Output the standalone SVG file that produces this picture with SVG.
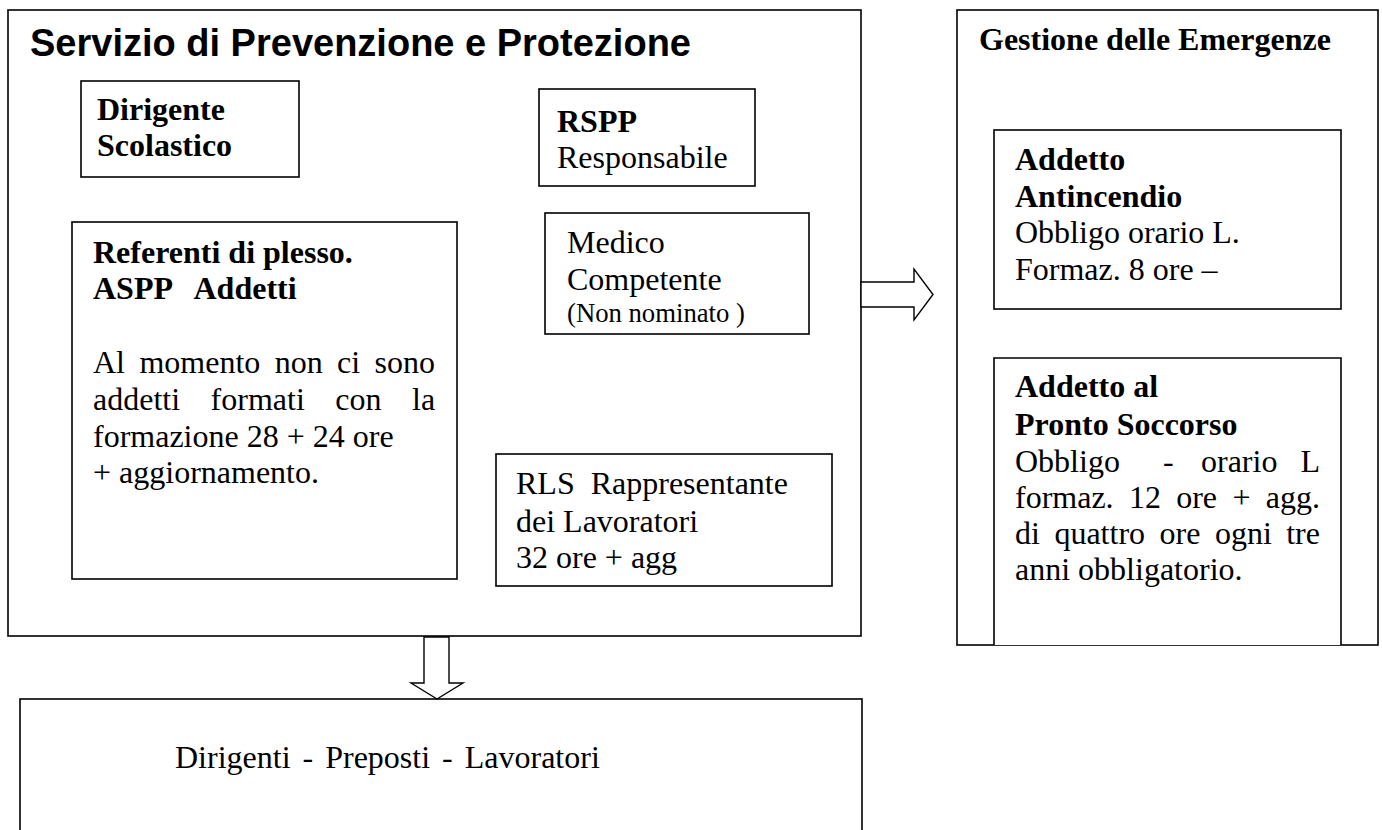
<svg xmlns="http://www.w3.org/2000/svg" width="1382" height="830" viewBox="0 0 1382 830">
<style>
  .box { fill: #ffffff; stroke: #000000; stroke-width: 1.6; }
  .t { font-family: "Liberation Serif", "Times New Roman", serif; font-size: 32px; fill: #000000; }
  .b { font-weight: bold; }
  .sm { font-size: 26.7px; }
  .title { font-family: "Liberation Sans", Arial, sans-serif; font-size: 38px; font-weight: bold; fill: #000000; }
  .arrow { fill: #ffffff; stroke: #000000; stroke-width: 1.4; stroke-linejoin: miter; }
</style>
<rect x="0" y="0" width="1382" height="830" fill="#ffffff"/>

<g id="servizio">
  <rect class="box" x="8" y="10" width="853" height="626"/>
  <text class="title" x="30" y="56">Servizio di Prevenzione e Protezione</text>
</g>

<g id="dirigente">
  <rect class="box" x="81" y="81" width="218" height="96"/>
  <text class="t b" x="97" y="120">Dirigente</text>
  <text class="t b" x="97" y="156">Scolastico</text>
</g>

<g id="rspp">
  <rect class="box" x="539" y="89" width="216" height="97"/>
  <text class="t b" x="557" y="132">RSPP</text>
  <text class="t" x="557" y="168">Responsabile</text>
</g>

<g id="medico">
  <rect class="box" x="545" y="213" width="264" height="121"/>
  <text class="t" x="567" y="253">Medico</text>
  <text class="t" x="567" y="290">Competente</text>
  <text class="t sm" x="567" y="322">(Non nominato )</text>
</g>

<g id="referenti">
  <rect class="box" x="72" y="222" width="385" height="357"/>
  <text class="t b" x="93" y="263">Referenti di plesso.</text>
  <text class="t b" x="93" y="299" xml:space="preserve">ASPP   Addetti</text>
  <text class="t" y="373"><tspan x="93">Al</tspan><tspan x="139.4">momento</tspan><tspan x="274.7">non</tspan><tspan x="337.1">ci</tspan><tspan x="374.6">sono</tspan></text>
  <text class="t" y="410"><tspan x="93">addetti</tspan><tspan x="210.6">formati</tspan><tspan x="335.3">con</tspan><tspan x="412">la</tspan></text>
  <text class="t" x="93" y="447">formazione 28 + 24 ore</text>
  <text class="t" x="93" y="483">+ aggiornamento.</text>
</g>

<g id="rls">
  <rect class="box" x="496" y="454" width="336" height="132"/>
  <text class="t" x="516" y="494" xml:space="preserve">RLS  Rappresentante</text>
  <text class="t" x="516" y="532">dei Lavoratori</text>
  <text class="t" x="516" y="568">32 ore + agg</text>
</g>

<g id="emergenze">
  <rect class="box" x="957" y="10" width="421" height="635"/>
  <text class="t b" x="979" y="50">Gestione delle Emergenze</text>
</g>

<g id="antincendio">
  <rect class="box" x="994" y="130" width="347" height="179"/>
  <text class="t b" x="1015" y="170">Addetto</text>
  <text class="t b" x="1015" y="206.7">Antincendio</text>
  <text class="t" x="1015" y="243.4">Obbligo orario L.</text>
  <text class="t" x="1015" y="280">Formaz. 8 ore –</text>
</g>

<g id="pronto-soccorso">
  <path class="box" d="M994,645 L994,358 L1341,358 L1341,645" fill="#ffffff"/>
  <text class="t b" x="1015" y="397">Addetto al</text>
  <text class="t b" x="1015" y="435">Pronto Soccorso</text>
  <text class="t" y="472"><tspan x="1015">Obbligo</tspan><tspan x="1163">-</tspan><tspan x="1201">orario</tspan><tspan x="1300.4">L</tspan></text>
  <text class="t" y="508"><tspan x="1015">formaz.</tspan><tspan x="1128.9">12</tspan><tspan x="1176.2">ore</tspan><tspan x="1232.4">+</tspan><tspan x="1265.7">agg.</tspan></text>
  <text class="t" y="544"><tspan x="1015">di</tspan><tspan x="1054.4">quattro</tspan><tspan x="1159.5">ore</tspan><tspan x="1214.9">ogni</tspan><tspan x="1286.2">tre</tspan></text>
  <text class="t" x="1015" y="580">anni obbligatorio.</text>
</g>

<g id="lavoratori">
  <rect class="box" x="20" y="699" width="842" height="160"/>
  <text class="t" x="175" y="768" xml:space="preserve" word-spacing="-2">Dirigenti  -  Preposti  -  Lavoratori</text>
</g>

<g id="connectors">
  <polygon class="arrow" points="861,282 914,282 914,269 933,294.5 914,320 914,307 861,307"/>
  <polygon class="arrow" points="424,637 449,637 449,683 463,683 437,699 411,683 424,683"/>
</g>
</svg>
